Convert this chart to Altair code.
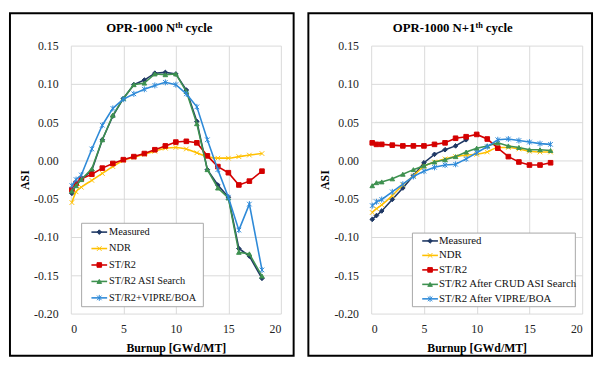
import altair as alt
import pandas as pd

# ---------------- data ----------------
KEYS = ["s0", "s1", "s2", "s3", "s4"]
NAMES_1 = ["Measured", "NDR", "ST/R2", "ST/R2 ASI Search", "ST/R2+VIPRE/BOA"]
NAMES_2 = ["Measured", "NDR", "ST/R2", "ST/R2 After CRUD ASI Search", "ST/R2 After VIPRE/BOA"]
COLORS = ["#1F3864", "#FFC000", "#D40000", "#3E9150", "#2E8AD8"]
SHAPES = ["diamond", "M-1,-1L1,1M-1,1L1,-1", "square", "triangle-up",
          "M-1,-1L1,1M-1,1L1,-1M0,-1.3L0,1.3"]

burnup_1 = [0.1, 0.5, 1, 2, 3, 4, 5, 6, 7, 8, 9, 10, 11, 12, 13, 14, 15, 16, 17, 18.2]
measured_1 = [-0.043, -0.031, -0.025, -0.013, 0.027, 0.058, 0.081, 0.099, 0.105, 0.114,
              0.115, 0.113, 0.092, 0.051, -0.012, -0.032, -0.048, -0.115, -0.125, -0.154]
ndr_1 = [-0.055, -0.041, -0.035, -0.026, -0.017, -0.008, 0.000, 0.004, 0.008, 0.012,
         0.016, 0.017, 0.015, 0.010, 0.005, 0.003, 0.003, 0.005, 0.007, 0.009]
str2_1 = [-0.038, -0.030, -0.024, -0.018, -0.010, -0.004, 0.001, 0.005, 0.009, 0.014,
          0.019, 0.024, 0.025, 0.023, 0.006, -0.008, -0.016, -0.032, -0.027, -0.014]
asi_search_1 = [-0.040, -0.033, -0.025, -0.011, 0.027, 0.059, 0.081, 0.099, 0.101, 0.113,
                0.112, 0.113, 0.090, 0.048, -0.012, -0.036, -0.049, -0.120, -0.122, -0.151]
vipre_1 = [-0.033, -0.025, -0.019, 0.015, 0.046, 0.068, 0.080, 0.087, 0.093, 0.098,
           0.102, 0.099, 0.087, 0.070, 0.027, -0.012, -0.048, -0.091, -0.057, -0.143]

burnup_2 = [0.1, 0.5, 1, 2, 3, 4, 5, 6, 7, 8, 9, 10, 11, 12, 13, 14, 15, 16, 17]
burnup_2_measured = [0.1, 0.5, 1, 2, 3, 4, 5, 6, 7, 8, 9]
measured_2 = [-0.077, -0.072, -0.066, -0.051, -0.036, -0.020, -0.003, 0.008, 0.014, 0.019, 0.027]
ndr_2 = [-0.068, -0.063, -0.058, -0.046, -0.032, -0.020, -0.008, -0.002, 0.002, 0.005,
         0.007, 0.008, 0.011, 0.017, 0.017, 0.015, 0.012, 0.011, 0.011]
str2_2 = [0.023, 0.021, 0.021, 0.020, 0.019, 0.019, 0.019, 0.021, 0.023, 0.029,
          0.031, 0.034, 0.028, 0.016, 0.005, -0.002, -0.006, -0.006, -0.003]
crud_2 = [-0.033, -0.029, -0.028, -0.024, -0.018, -0.012, -0.007, -0.002, 0.001, 0.005,
          0.011, 0.016, 0.019, 0.023, 0.019, 0.017, 0.014, 0.014, 0.013]
vipre_2 = [-0.059, -0.054, -0.051, -0.041, -0.031, -0.021, -0.014, -0.009, -0.006, -0.005,
           0.002, 0.010, 0.018, 0.027, 0.028, 0.026, 0.024, 0.022, 0.021]

X_TICKS = [0, 5, 10, 15, 20]
Y_TICKS = [-0.20, -0.15, -0.10, -0.05, 0.00, 0.05, 0.10, 0.15]

FONT = "Liberation Serif, Tinos, DejaVu Serif, serif"
H = 273

color_scale = alt.Scale(domain=KEYS, range=COLORS)
shape_scale = alt.Scale(domain=KEYS, range=SHAPES)

X_AXIS = alt.Axis(values=X_TICKS, title="Burnup [GWd/MT]", labelPadding=10,
                  labelFont=FONT, titleFont=FONT,
                  titleBaseline="middle", titleY=35)
Y_AXIS = alt.Axis(values=Y_TICKS, title="ASI", labelPadding=13,
                  labelFont=FONT, titleFont=FONT,
                  labelExpr="replace(format(datum.value, '.2f'), '\u2212', '-')",
                  titleAngle=270, titleX=-47, titleY=H / 2,
                  titleBaseline="middle", titleAlign="center")


def make_panel(names, xs_list, ys_list, title_parts, legend, border, width):
    x_enc = alt.X("burnup:Q", scale=alt.Scale(domain=[0, 20], nice=False, zero=False),
                  axis=X_AXIS)
    y_enc = alt.Y("asi:Q", scale=alt.Scale(domain=[-0.20, 0.15], nice=False, zero=False),
                  axis=Y_AXIS)
    data_layers = []
    for i in range(5):
        df = pd.DataFrame({"burnup": xs_list[i], "asi": ys_list[i], "key": KEYS[i]})
        base = alt.Chart(df)
        line = base.mark_line(strokeWidth=1.6,
                              interpolate="monotone" if i == 1 else "linear").encode(
            x=x_enc, y=y_enc,
            color=alt.Color("key:N", scale=color_scale, legend=None),
        )
        pts = base.mark_point(filled=True, size=22, strokeWidth=1, opacity=1).encode(
            x=x_enc, y=y_enc,
            shape=alt.Shape("key:N", scale=shape_scale, legend=None),
            color=alt.Color("key:N", scale=color_scale, legend=None),
            stroke=alt.Stroke("key:N", scale=color_scale, legend=None),
        )
        data_layers += [line, pts]
    data_group = alt.layer(*data_layers)

    leg_df = pd.DataFrame({"key": KEYS, "name": names, "idx": list(range(5))})
    one = pd.DataFrame({"k": [0]})
    ly = alt.Y("idx:Q", scale=alt.Scale(domain=[0, 4], range=[legend["y0"], legend["y1"]],
                                        nice=False, zero=False), axis=None)
    box = alt.Chart(one).mark_rect(fill="white", stroke="#A6A6A6", strokeWidth=1).encode(
        x=alt.value(legend["bx0"]), x2=alt.value(legend["bx1"]),
        y=alt.value(legend["by0"]), y2=alt.value(legend["by1"]),
    )
    lrule = alt.Chart(leg_df).mark_rule(strokeWidth=1.6).encode(
        x=alt.value(legend["lx0"]), x2=alt.value(legend["lx1"]), y=ly,
        color=alt.Color("key:N", scale=color_scale, legend=None),
    )
    lpts = alt.Chart(leg_df).mark_point(filled=True, size=22, strokeWidth=1, opacity=1).encode(
        x=alt.value((legend["lx0"] + legend["lx1"]) / 2), y=ly,
        shape=alt.Shape("key:N", scale=shape_scale, legend=None),
        color=alt.Color("key:N", scale=color_scale, legend=None),
        stroke=alt.Stroke("key:N", scale=color_scale, legend=None),
    )
    ltxt = alt.Chart(leg_df).mark_text(align="left", baseline="middle", font=FONT,
                                       fontSize=legend["fs"], color="#111").encode(
        x=alt.value(legend["tx"]), y=ly, text="name:N",
    )
    legend_group = alt.layer(box, lrule, lpts, ltxt)

    frame = alt.Chart(one).mark_rect(fillOpacity=0, stroke="black", strokeWidth=2).encode(
        x=alt.value(border[0]), x2=alt.value(border[1]),
        y=alt.value(border[2]), y2=alt.value(border[3]),
    )
    titles = []
    for txt, xpos, ypos, fs in title_parts:
        titles.append(alt.Chart(one).mark_text(text=txt, align="left", baseline="alphabetic",
                                               font=FONT, fontSize=fs, fontWeight="bold",
                                               color="#000").encode(
            x=alt.value(xpos), y=alt.value(ypos)))

    return alt.layer(frame, *titles, data_group, legend_group).resolve_scale(
        y="independent").properties(width=width, height=H)


p1 = make_panel(
    NAMES_1,
    [burnup_1] * 5,
    [measured_1, ndr_1, str2_1, asi_search_1, vipre_1],
    [("OPR-1000 N", 36, -14.3, 13), ("th", 106.4, -18.3, 8.5), ("cycle", 116.8, -14.3, 13)],
    dict(bx0=11, bx1=135, by0=181, by1=266, y0=190, y1=257, lx0=21, lx1=37, tx=39, fs=10.5),
    (-62, 227, -33, 316),
    214,
)
p2 = make_panel(
    NAMES_2,
    [burnup_2_measured, burnup_2, burnup_2, burnup_2, burnup_2],
    [measured_2, ndr_2, str2_2, crud_2, vipre_2],
    [("OPR-1000 N+1", 22, -14.3, 13), ("th", 106.3, -18.3, 8.5), ("cycle", 116.7, -14.3, 13)],
    dict(bx0=42, bx1=208, by0=191, by1=266, y0=199, y1=258, lx0=52, lx1=68, tx=69, fs=11),
    (-64, 225, -33, 316),
    215,
)

chart = alt.hconcat(p1, p2, spacing=11).properties(padding=0).configure_view(
    stroke="transparent"
).configure_axis(
    labelFont=FONT, labelFontSize=12, labelColor="#222",
    titleFont=FONT, titleFontSize=12, titleFontWeight="bold", titleColor="#000",
    gridColor="#D9D9D9", gridWidth=1, domain=False, ticks=False, tickSize=0,
).configure_text(font=FONT)

chart.save("out.html", embed_options={"renderer": "svg", "actions": False})
